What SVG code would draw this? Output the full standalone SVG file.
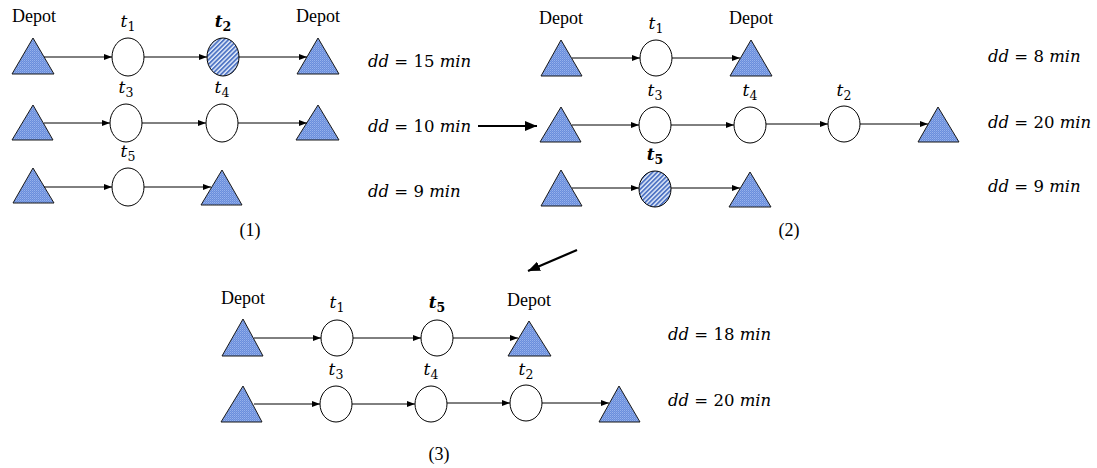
<svg xmlns="http://www.w3.org/2000/svg" width="1097" height="468" viewBox="0 0 1097 468">
  <defs>
    <!-- dotted blue fill for depots -->
    <pattern id="dots" width="2" height="2" patternUnits="userSpaceOnUse">
      <rect width="2" height="2" fill="#6a8edc"/>
      <rect x="0" y="0" width="1" height="1" fill="#97b2ec"/>
      <rect x="1" y="1" width="1" height="1" fill="#7f9fe4"/>
    </pattern>
    <!-- diagonal hatch for moved tasks -->
    <pattern id="hatch" width="3.2" height="3.2" patternUnits="userSpaceOnUse" patternTransform="rotate(45)">
      <rect width="3.2" height="3.2" fill="#e4ecfa"/>
      <rect x="0" y="0" width="1.8" height="3.2" fill="#4f74c4"/>
    </pattern>
    <marker id="arr" viewBox="0 0 8 6" refX="8" refY="3" markerWidth="8" markerHeight="6" markerUnits="userSpaceOnUse" orient="auto">
      <path d="M0,0 L8,3 L0,6 Z" fill="#000"/>
    </marker>
    <marker id="bigarr" viewBox="0 0 12 10" refX="12" refY="5" markerWidth="12" markerHeight="10" markerUnits="userSpaceOnUse" orient="auto">
      <path d="M0,0 L12,5 L0,10 Z" fill="#000"/>
    </marker>
  </defs>
  <style>
    .depot { fill: url(#dots); stroke: #1a1a1a; stroke-width: 1; }
    .task { fill: #fff; stroke: #000; stroke-width: 1; }
    .task.moved { fill: url(#hatch); }
    .edge { stroke: #000; stroke-width: 1; fill: none; marker-end: url(#arr); }
    .big { stroke: #000; stroke-width: 2.2; fill: none; marker-end: url(#bigarr); }
    .lbl { font-family: "Liberation Serif", "Times New Roman", serif; font-size: 18px; fill: #000; text-anchor: middle; }
    .math { font-family: "DejaVu Serif", "Liberation Serif", serif; font-size: 16.5px; fill: #000; }
    .t { font-family: "DejaVu Serif", "Liberation Serif", serif; font-style: italic; font-size: 17px; fill: #000; text-anchor: middle; }
    .b { font-weight: bold; }
    .sub { font-style: normal; font-size: 12.5px; }
    .it { font-style: italic; }
  </style>

  <!-- ===== Panel (1) ===== -->
  <g id="p1-r1-start"><polygon class="depot" points="33,38 12,74 54,74"/><text class="lbl" x="34" y="22">Depot</text></g>
  <g id="p1-t1"><ellipse class="task" cx="128" cy="57" rx="16" ry="19"/><text class="t" x="128" y="27">t<tspan class="sub" dy="4">1</tspan></text></g>
  <g id="p1-t2"><ellipse class="task moved" cx="223" cy="57" rx="16" ry="19"/><text class="t b" x="223" y="27">t<tspan class="sub" dy="4">2</tspan></text></g>
  <g id="p1-r1-end"><polygon class="depot" points="318,38 297,74 339,74"/><text class="lbl" x="318" y="22">Depot</text></g>

  <g id="p1-r2-start"><polygon class="depot" points="33,105 12,140 53,140"/></g>
  <g id="p1-t3"><ellipse class="task" cx="126" cy="123" rx="16" ry="19"/><text class="t" x="126" y="93">t<tspan class="sub" dy="4">3</tspan></text></g>
  <g id="p1-t4"><ellipse class="task" cx="222" cy="123" rx="16" ry="19"/><text class="t" x="222" y="93">t<tspan class="sub" dy="4">4</tspan></text></g>
  <g id="p1-r2-end"><polygon class="depot" points="318,105 296,140 339,140"/></g>

  <g id="p1-r3-start"><polygon class="depot" points="33,168 13,203 54,203"/></g>
  <g id="p1-t5"><ellipse class="task" cx="128" cy="187" rx="16" ry="19"/><text class="t" x="128" y="157">t<tspan class="sub" dy="4">5</tspan></text></g>
  <g id="p1-r3-end"><polygon class="depot" points="222,170 201,205 242,205"/></g>

  <text class="lbl" x="250" y="236">(1)</text>
  <text class="math" x="368" y="67"><tspan class="it">dd</tspan> = 15 <tspan class="it">min</tspan></text>
  <text class="math" x="368" y="132"><tspan class="it">dd</tspan> = 10 <tspan class="it">min</tspan></text>
  <text class="math" x="368" y="197"><tspan class="it">dd</tspan> = 9 <tspan class="it">min</tspan></text>

  <!-- ===== Panel (2) ===== -->
  <g id="p2-r1-start"><polygon class="depot" points="561,40 541,76 582,76"/><text class="lbl" x="561" y="24">Depot</text></g>
  <g id="p2-t1"><ellipse class="task" cx="656" cy="58" rx="16" ry="18"/><text class="t" x="656" y="29">t<tspan class="sub" dy="4">1</tspan></text></g>
  <g id="p2-r1-end"><polygon class="depot" points="751,40 730,76 772,76"/><text class="lbl" x="751" y="24">Depot</text></g>

  <g id="p2-r2-start"><polygon class="depot" points="561,107 540,142 581,142"/></g>
  <g id="p2-t3"><ellipse class="task" cx="655" cy="125" rx="16" ry="18"/><text class="t" x="655" y="96">t<tspan class="sub" dy="4">3</tspan></text></g>
  <g id="p2-t4"><ellipse class="task" cx="750" cy="125" rx="16" ry="18"/><text class="t" x="750" y="96">t<tspan class="sub" dy="4">4</tspan></text></g>
  <g id="p2-t2"><ellipse class="task" cx="844" cy="124" rx="16" ry="18"/><text class="t" x="844" y="96">t<tspan class="sub" dy="4">2</tspan></text></g>
  <g id="p2-r2-end"><polygon class="depot" points="938,107 918,142 959,142"/></g>

  <g id="p2-r3-start"><polygon class="depot" points="561,170 541,206 582,206"/></g>
  <g id="p2-t5"><ellipse class="task moved" cx="655" cy="189" rx="16" ry="18"/><text class="t b" x="655" y="160">t<tspan class="sub" dy="4">5</tspan></text></g>
  <g id="p2-r3-end"><polygon class="depot" points="750,172 729,207 771,207"/></g>

  <text class="lbl" x="789" y="236">(2)</text>
  <text class="math" x="988" y="62"><tspan class="it">dd</tspan> = 8 <tspan class="it">min</tspan></text>
  <text class="math" x="988" y="128"><tspan class="it">dd</tspan> = 20 <tspan class="it">min</tspan></text>
  <text class="math" x="988" y="192"><tspan class="it">dd</tspan> = 9 <tspan class="it">min</tspan></text>

  <!-- ===== Panel (3) ===== -->
  <g id="p3-r1-start"><polygon class="depot" points="243,319 222,356 263,356"/><text class="lbl" x="243" y="304">Depot</text></g>
  <g id="p3-t1"><ellipse class="task" cx="337" cy="338" rx="16" ry="18"/><text class="t" x="337" y="308">t<tspan class="sub" dy="4">1</tspan></text></g>
  <g id="p3-t5"><ellipse class="task" cx="437" cy="338" rx="16" ry="18"/><text class="t b" x="437" y="308">t<tspan class="sub" dy="4">5</tspan></text></g>
  <g id="p3-r1-end"><polygon class="depot" points="529,321 508,356 551,356"/><text class="lbl" x="529" y="306">Depot</text></g>

  <g id="p3-r2-start"><polygon class="depot" points="243,386 221,422 262,422"/></g>
  <g id="p3-t3"><ellipse class="task" cx="336" cy="404" rx="16" ry="18"/><text class="t" x="336" y="375">t<tspan class="sub" dy="4">3</tspan></text></g>
  <g id="p3-t4"><ellipse class="task" cx="431" cy="404" rx="16" ry="18"/><text class="t" x="431" y="375">t<tspan class="sub" dy="4">4</tspan></text></g>
  <g id="p3-t2"><ellipse class="task" cx="526" cy="403" rx="16" ry="18"/><text class="t" x="526" y="375">t<tspan class="sub" dy="4">2</tspan></text></g>
  <g id="p3-r2-end"><polygon class="depot" points="619,386 599,422 640,422"/></g>

  <text class="lbl" x="439" y="460">(3)</text>
  <text class="math" x="668" y="340"><tspan class="it">dd</tspan> = 18 <tspan class="it">min</tspan></text>
  <text class="math" x="668" y="406"><tspan class="it">dd</tspan> = 20 <tspan class="it">min</tspan></text>

  <!-- ===== Connectors ===== -->
  <g id="connectors">
    <line class="edge" x1="44" y1="57" x2="112" y2="57"/>
    <line class="edge" x1="144" y1="57" x2="207" y2="57"/>
    <line class="edge" x1="239" y1="57" x2="307" y2="57"/>

    <line class="edge" x1="44" y1="123" x2="110" y2="123"/>
    <line class="edge" x1="142" y1="123" x2="206" y2="123"/>
    <line class="edge" x1="238" y1="123" x2="307" y2="123"/>

    <line class="edge" x1="44" y1="187" x2="112" y2="187"/>
    <line class="edge" x1="144" y1="187" x2="211" y2="187"/>

    <line class="edge" x1="572" y1="58" x2="640" y2="58"/>
    <line class="edge" x1="672" y1="58" x2="740" y2="58"/>

    <line class="edge" x1="572" y1="125" x2="639" y2="125"/>
    <line class="edge" x1="671" y1="125" x2="734" y2="125"/>
    <line class="edge" x1="766" y1="124" x2="828" y2="124"/>
    <line class="edge" x1="860" y1="124" x2="928" y2="124"/>

    <line class="edge" x1="572" y1="188" x2="639" y2="188"/>
    <line class="edge" x1="671" y1="188" x2="740" y2="188"/>

    <line class="edge" x1="254" y1="338" x2="321" y2="338"/>
    <line class="edge" x1="353" y1="338" x2="421" y2="338"/>
    <line class="edge" x1="453" y1="338" x2="518" y2="338"/>

    <line class="edge" x1="254" y1="404" x2="320" y2="404"/>
    <line class="edge" x1="352" y1="404" x2="415" y2="404"/>
    <line class="edge" x1="447" y1="403" x2="510" y2="403"/>
    <line class="edge" x1="542" y1="403" x2="609" y2="403"/>

    <line class="big" x1="478" y1="126" x2="537" y2="126"/>
    <line class="big" x1="577" y1="250" x2="528" y2="271"/>
  </g>
</svg>
